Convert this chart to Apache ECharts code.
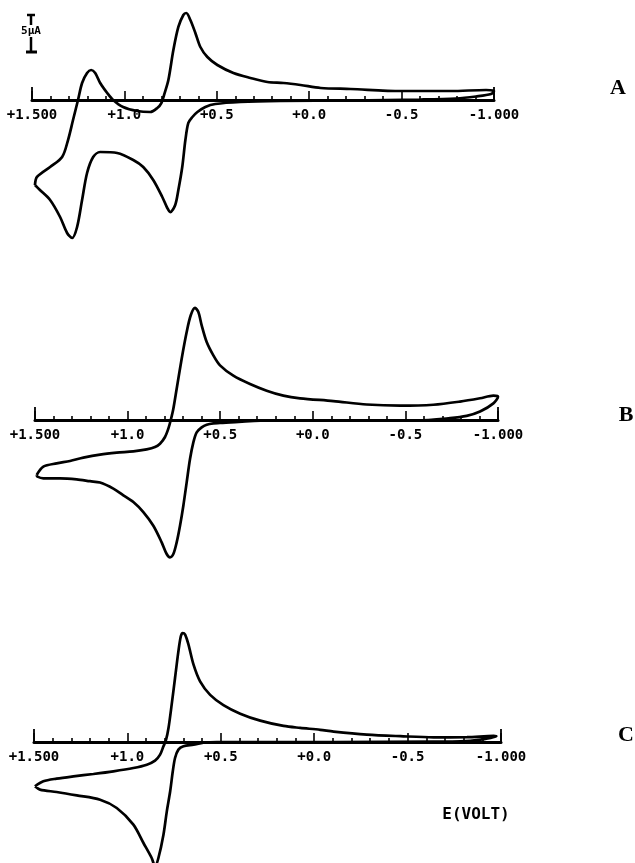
<!DOCTYPE html>
<html>
<head>
<meta charset="utf-8">
<script src="https://cdn.jsdelivr.net/npm/echarts@6/dist/echarts.min.js"></script>
<style>
  html, body { margin: 0; padding: 0; background: #fff; }
  #chart { width: 635px; height: 863px; }
</style>
</head>
<body>
<div id="chart"></div>
<script>
// cyclic voltammograms, [E (V), i (uA)] along the scan, one closed loop each
const cvA = [
  [1.484,-11.81],[1.473,-10.69],[1.402,-9.31],[1.337,-7.92],[1.305,-5.56],[1.278,-2.78],[1.251,0],
  [1.229,2.36],[1.202,3.75],[1.180,4.17],[1.158,3.75],[1.131,2.36],[1.093,0.97],[1.061,0],
  [1.007,-0.97],[0.931,-1.53],[0.860,-1.67],[0.822,-1.11],[0.800,-0.42],[0.784,0.83],[0.762,2.78],
  [0.735,6.94],[0.708,10.14],[0.681,11.81],[0.665,12.08],[0.643,11.11],[0.616,9.31],[0.589,7.36],
  [0.551,5.97],[0.497,4.86],[0.410,3.75],[0.318,3.06],[0.226,2.50],[0.139,2.36],[0.047,2.08],
  [-0.062,1.67],[-0.224,1.53],[-0.496,1.25],[-0.767,1.25],[-0.957,1.39],[-1.0,1.25],
  [-0.984,0.83],[-0.902,0.49],[-0.794,0.21],[-0.604,0.07],[-0.224,-0.07],[0.155,-0.14],[0.372,-0.28],
  [0.508,-0.56],[0.562,-0.97],[0.605,-1.67],[0.632,-2.36],[0.654,-3.19],[0.670,-5.56],[0.687,-9.31],
  [0.708,-12.5],[0.725,-14.58],[0.752,-15.56],[0.768,-15.0],[0.795,-13.47],[0.844,-11.11],[0.898,-9.31],
  [0.952,-8.33],[1.039,-7.36],[1.131,-7.22],[1.169,-7.92],[1.202,-10.14],[1.229,-13.89],[1.256,-17.64],
  [1.283,-19.17],[1.310,-18.47],[1.348,-16.25],[1.402,-13.89],[1.457,-12.5],[1.484,-11.81]
];
const cvB = [
  [1.491,-7.64],[1.455,-6.48],[1.383,-6.02],[1.311,-5.69],[1.239,-5.23],[1.149,-4.80],[1.059,-4.53],
  [0.969,-4.35],[0.897,-4.07],[0.852,-3.75],[0.825,-3.29],[0.798,-2.36],[0.780,-1.20],[0.767,0],
  [0.753,1.57],[0.735,4.35],[0.708,8.52],[0.681,12.22],[0.659,14.54],[0.636,15.56],[0.618,15.0],
  [0.600,13.15],[0.573,10.83],[0.537,8.98],[0.501,7.59],[0.429,6.16],[0.339,5.0],[0.249,4.07],
  [0.159,3.38],[0.069,3.01],[-0.111,2.63],[-0.291,2.15],[-0.471,1.99],[-0.651,2.12],[-0.795,2.56],
  [-0.903,3.02],[-0.975,3.38],[-1.0,3.24],[-0.975,2.31],[-0.903,1.17],[-0.831,0.57],[-0.741,0.26],
  [-0.561,-0.05],[-0.111,-0.05],[0.249,-0.07],[0.501,-0.42],[0.537,-0.46],[0.573,-0.65],[0.600,-1.02],
  [0.627,-1.71],[0.645,-3.10],[0.663,-5.42],[0.681,-8.66],[0.699,-11.90],[0.717,-14.68],[0.735,-16.99],
  [0.753,-18.61],[0.771,-19.07],[0.789,-18.61],[0.816,-16.99],[0.861,-14.68],[0.915,-12.78],
  [0.969,-11.39],[1.023,-10.46],[1.077,-9.53],[1.149,-8.69],[1.203,-8.50],[1.275,-8.24],[1.365,-8.10],
  [1.455,-8.10],[1.487,-7.87],[1.491,-7.64]
];
const cvC = [
  [1.495,-6.16],[1.450,-5.46],[1.379,-5.09],[1.289,-4.77],[1.182,-4.44],[1.075,-4.07],[0.968,-3.61],
  [0.896,-3.15],[0.852,-2.59],[0.825,-1.76],[0.807,-0.60],[0.793,0.32],[0.780,1.94],[0.763,5.19],
  [0.745,8.89],[0.727,12.59],[0.714,14.68],[0.704,15.14],[0.691,14.91],[0.673,13.52],[0.646,10.74],
  [0.611,8.43],[0.557,6.55],[0.486,5.13],[0.396,3.94],[0.289,2.97],[0.164,2.23],[0.075,1.96],
  [-0.032,1.69],[-0.104,1.44],[-0.282,1.03],[-0.461,0.81],[-0.639,0.65],[-0.818,0.67],[-0.961,0.85],
  [-0.975,0.8],[-0.889,0.32],[-0.782,0.08],[-0.639,0.05],[-0.104,0],[0.254,0],[0.521,0],
  [0.593,-0.09],[0.646,-0.37],[0.700,-0.60],[0.727,-1.06],[0.745,-2.22],[0.757,-4.07],[0.771,-6.85],
  [0.789,-9.63],[0.807,-12.87],[0.834,-16.11],[0.852,-17.27],[0.870,-16.11],[0.914,-14.03],
  [0.968,-11.48],[1.057,-9.17],[1.146,-8.01],[1.271,-7.41],[1.379,-6.94],[1.468,-6.62],[1.495,-6.16]
];
const tickLabels = { '1.5': '+1.500', '1': '+1.0', '0.5': '+0.5', '0': '+0.0', '-0.5': '-0.5', '-1': '-1.000' };
const panelNames = ['A', 'B', 'C'];

const PX_PER_UA = 7.2;  // 5 uA scale bar is ~36 px
// each grid ends at its zero-current line; negative currents draw below it (clip off)
const panels = [
  { data: cvA, left: 32, width: 462, axisY: 100, yMax: 13, letter: [618, 88] },
  { data: cvB, left: 35, width: 463, axisY: 420, yMax: 17, letter: [626, 415] },
  { data: cvC, left: 34, width: 467, axisY: 742, yMax: 17, letter: [626, 735] }
];

const mono = 'DejaVu Sans Mono';
const grid = [], xAxis = [], yAxis = [], series = [], graphic = [];

panels.forEach((p, k) => {
  grid.push({
    left: p.left, width: p.width,
    top: p.axisY - p.yMax * PX_PER_UA,
    height: p.yMax * PX_PER_UA
  });
  yAxis.push({ gridIndex: k, type: 'value', min: 0, max: p.yMax, show: false });
  // main axis: labels, 0.5 V ticks, 0.1 V minor ticks
  xAxis.push({
    gridIndex: k, type: 'value', min: -1, max: 1.5, interval: 0.5, inverse: true, position: 'bottom',
    axisLine: { onZero: false, lineStyle: { color: '#000', width: 3 } },
    axisTick: { inside: true, length: 9, lineStyle: { color: '#000', width: 1.6 } },
    minorTick: { show: true, splitNumber: 5, length: 4, lineStyle: { color: '#000', width: 1.6 } },
    splitLine: { show: false }, minorSplitLine: { show: false },
    axisLabel: {
      color: '#000', fontFamily: mono, fontWeight: 'bold', fontSize: 14, margin: 8,
      formatter: v => tickLabels[String(Math.round(v * 10) / 10)] || ''
    }
  });
  // taller end ticks at +1.5 and -1.0
  xAxis.push({
    gridIndex: k, type: 'value', min: -1, max: 1.5, interval: 2.5, inverse: true, position: 'bottom',
    axisLine: { show: false, onZero: false },
    axisTick: { inside: true, length: 13, lineStyle: { color: '#000', width: 1.8 } },
    axisLabel: { show: false }, splitLine: { show: false }
  });
  series.push({
    type: 'line', xAxisIndex: 2 * k, yAxisIndex: k, data: p.data,
    showSymbol: false, symbol: 'none', smooth: 0.3, clip: false, silent: true,
    lineStyle: { color: '#000', width: 2.7 }
  });
  graphic.push({
    type: 'text', x: p.letter[0], y: p.letter[1],
    style: { text: panelNames[k], font: 'bold 22px "Liberation Serif"', fill: '#000', align: 'center', verticalAlign: 'middle' }
  });
});

// 5 uA scale bar
const bar = { stroke: '#000', lineWidth: 2.5 };
graphic.push(
  { type: 'line', shape: { x1: 27, y1: 15, x2: 35, y2: 15 }, style: bar },
  { type: 'line', shape: { x1: 31, y1: 15, x2: 31, y2: 25 }, style: bar },
  { type: 'text', x: 31, y: 31, style: { text: '5µA', font: 'bold 11px "DejaVu Sans Mono"', fill: '#000', align: 'center', verticalAlign: 'middle' } },
  { type: 'line', shape: { x1: 31, y1: 37, x2: 31, y2: 52 }, style: bar },
  { type: 'line', shape: { x1: 26, y1: 52, x2: 37, y2: 52 }, style: { stroke: '#000', lineWidth: 3 } },
  { type: 'text', x: 476, y: 815, style: { text: 'E(VOLT)', font: 'bold 16px "DejaVu Sans Mono"', fill: '#000', align: 'center', verticalAlign: 'middle' } }
);

const chart = echarts.init(document.getElementById('chart'));
chart.setOption({
  animation: false,
  backgroundColor: '#fff',
  grid, xAxis, yAxis, series, graphic
});
</script>
</body>
</html>
